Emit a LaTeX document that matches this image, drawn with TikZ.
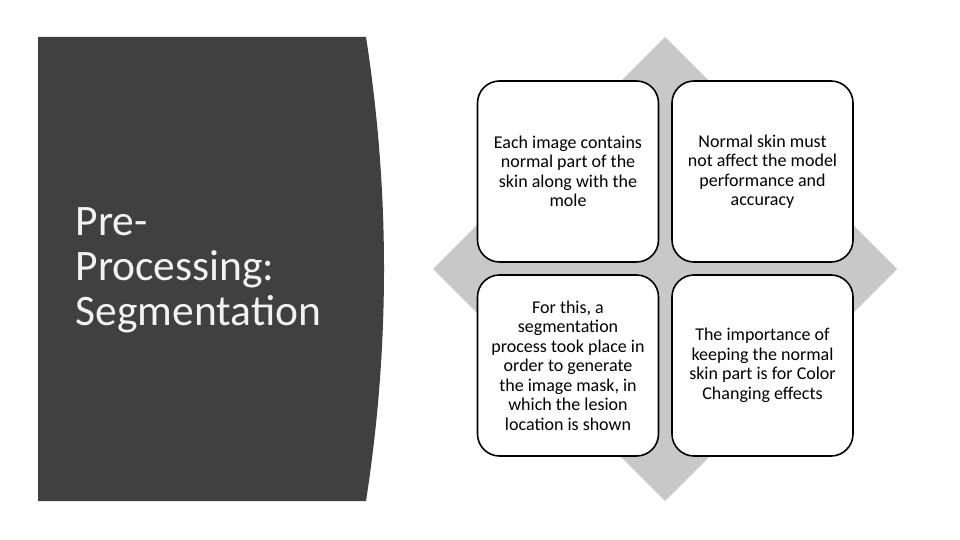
\documentclass[tikz,border=0pt]{standalone}
\usepackage{fontspec}
\setmainfont{Carlito}
\begin{document}
\begin{tikzpicture}[x=1pt,y=-1pt,
  card/.style={draw=black,line width=1.6pt,fill=white,rounded corners=22pt,minimum width=181pt,minimum height=181pt,inner sep=0pt},
  cardtext/.style={align=center,font=\fontsize{18}{19.5}\selectfont,text=black},
  titletext/.style={align=left,anchor=west,font=\fontsize{43.5}{45}\selectfont,text=white!95!black}]
\useasboundingbox (0,0) rectangle (960,540);
\fill[white] (0,0) rectangle (960,540);
% dark panel
\fill[fill={rgb,255:red,64;green,64;blue,64}] (38,37) -- (366,37) .. controls (390,191.7) and (390,346.3) .. (366,501) -- (38,501) -- cycle;
\node[titletext] (title) at (72,270) {Pre-\\Processing:\\Segmentation};
% diamond
\fill[fill={rgb,255:red,200;green,200;blue,200}] (665,37) -- (897,269) -- (665,501) -- (433,269) -- cycle;
% cards
\node[card] (tl) at (568,171.5) {};
\node[card] (tr) at (762.5,171.5) {};
\node[card] (bl) at (568,365.5) {};
\node[card] (br) at (762.5,365.5) {};
\node[cardtext] (tlt) at (tl.center) {Each image contains\\normal part of the\\skin along with the\\mole};
\node[cardtext] (trt) at (tr.center) {Normal skin must\\not affect the model\\performance and\\accuracy};
\node[cardtext] (blt) at (bl.center) {For this, a\\segmentation\\process took place in\\order to generate\\the image mask, in\\which the lesion\\location is shown};
\node[cardtext] (brt) at (br.center) {The importance of\\keeping the normal\\skin part is for Color\\Changing effects};
\end{tikzpicture}
\end{document}
